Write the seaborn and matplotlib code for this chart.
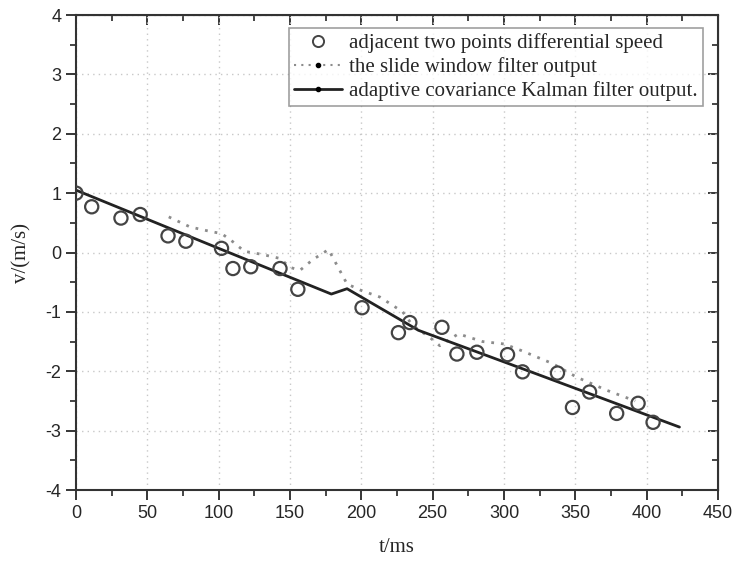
import matplotlib
matplotlib.use("Agg")
import matplotlib.pyplot as plt
import numpy as np
import pandas as pd
import seaborn as sns
from matplotlib.lines import Line2D
from matplotlib.ticker import MultipleLocator

# measured speed from differences of adjacent points
diff_t = [0, 11, 31.5, 45, 64.5, 77, 102, 110, 122.5, 143, 155.5, 200.5, 226, 234,
          256.5, 267, 281, 302.5, 313, 337.5, 348, 360, 379, 394, 404.5]
diff_v = [1.0, 0.77, 0.58, 0.64, 0.28, 0.19, 0.07, -0.27, -0.24, -0.27, -0.62, -0.93,
          -1.35, -1.18, -1.26, -1.71, -1.68, -1.72, -2.01, -2.03, -2.61, -2.35, -2.71,
          -2.54, -2.86]

# slide window filter output
slide_t = [65, 80, 95, 102, 110, 118, 130, 143, 150, 157, 166, 177, 190, 200, 213,
           229, 236, 248, 255, 268, 285, 300, 312, 334, 351, 372, 392]
slide_v = [0.6, 0.43, 0.35, 0.32, 0.18, 0.02, -0.03, -0.1, -0.25, -0.3, -0.12, 0.05,
           -0.53, -0.64, -0.75, -1.0, -1.23, -1.43, -1.57, -1.37, -1.5, -1.54, -1.65,
           -1.87, -2.1, -2.32, -2.5]

# adaptive covariance Kalman filter output
kalman_t = [0, 100, 179, 190, 240, 320, 423]
kalman_v = [1.05, 0.07, -0.70, -0.61, -1.31, -2.02, -2.94]

labels = ["adjacent two points differential speed",
          "the slide window filter output",
          "adaptive covariance Kalman filter output."]

sns.set_style("ticks")
plt.rcParams["font.family"] = ["Liberation Sans", "DejaVu Sans"]
plt.rcParams["axes.unicode_minus"] = False

fig = plt.figure(figsize=(7.33, 5.64), dpi=100)
ax = fig.add_axes([0.1037, 0.1312, 0.8758, 0.8422])

df_diff = pd.DataFrame({"t": diff_t, "v": diff_v})
df_slide = pd.DataFrame({"t": slide_t, "v": slide_v})
df_kal = pd.DataFrame({"t": kalman_t, "v": kalman_v})

sns.lineplot(data=df_slide, x="t", y="v", ax=ax, color="#8c8c8c", lw=2,
             linestyle=(0, (1, 2.5)), sort=False)
sns.lineplot(data=df_kal, x="t", y="v", ax=ax, color="#222222", lw=2, sort=False)
sns.scatterplot(data=df_diff, x="t", y="v", ax=ax, s=90, facecolor="none",
                edgecolor="#444444", linewidth=1.6, zorder=5)

ax.set_xlim(0, 450)
ax.set_ylim(-4, 4)
ax.xaxis.set_major_locator(MultipleLocator(50))
ax.xaxis.set_minor_locator(MultipleLocator(25))
ax.yaxis.set_major_locator(MultipleLocator(1))
ax.yaxis.set_minor_locator(MultipleLocator(0.5))
ax.grid(True, which="major", color="#c8c8c8", linestyle=(0, (1, 3)), lw=1)
ax.tick_params(which="major", length=7, width=1.3, labelsize=13, direction="out")
ax.tick_params(which="minor", length=4, width=1.2, direction="out")
for s in ax.spines.values():
    s.set_linewidth(1.5)
    s.set_color("#333333")

top = ax.secondary_xaxis("top")
top.xaxis.set_major_locator(MultipleLocator(50))
top.xaxis.set_minor_locator(MultipleLocator(25))
top.tick_params(which="major", direction="in", length=7, width=1.3, labeltop=False)
top.tick_params(which="minor", direction="in", length=4, width=1.2)
right = ax.secondary_yaxis("right")
right.yaxis.set_major_locator(MultipleLocator(1))
right.yaxis.set_minor_locator(MultipleLocator(0.5))
right.tick_params(which="major", direction="in", length=7, width=1.3, labelright=False)
right.tick_params(which="minor", direction="in", length=4, width=1.2)

ax.set_xlabel("t/ms", family="Liberation Serif", fontsize=15, labelpad=12)
ax.set_ylabel("v/(m/s)", family="Liberation Serif", fontsize=15, labelpad=10)

handles = [
    Line2D([], [], marker="o", ls="none", mfc="none", mec="#444444", ms=8, mew=1.4),
    Line2D([], [], color="#8c8c8c", lw=1.5, ls=(0, (1, 2.5)), marker="o", ms=3,
           mfc="black", mec="black"),
    Line2D([], [], color="#222222", lw=2, marker="o", ms=3, mfc="black", mec="black"),
]
leg = ax.legend(handles, labels, loc="upper right", bbox_to_anchor=(0.977, 0.973),
                prop={"family": "Liberation Serif", "size": 15}, frameon=True,
                fancybox=False, handlelength=2.3, handletextpad=0.35,
                labelspacing=0.2, borderpad=0.25, borderaxespad=0)
leg.get_frame().set_edgecolor("#888888")
leg.get_frame().set_linewidth(1.2)

fig.savefig("out.png", dpi=100)
